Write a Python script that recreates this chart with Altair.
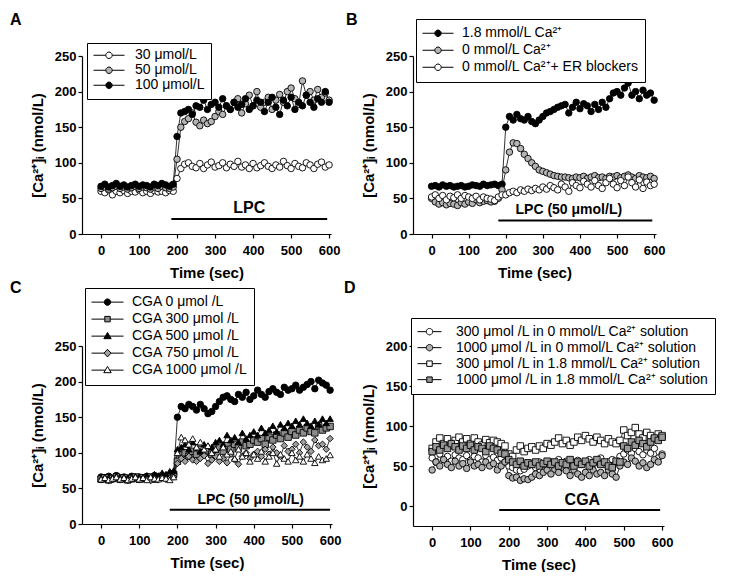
import math
import altair as alt
import pandas as pd

# ---------------- data ----------------
T = list(range(0, 601, 10))  # sample times (sec)
XTICKS = [0, 100, 200, 300, 400, 500, 600]

# Panel A
A_NAMES = ["30 μmol/L", "50 μmol/L", "100 μmol/L"]
A_30 = [60, 58, 62, 55, 60, 58, 61, 57, 60, 59, 62, 58, 60, 57, 61, 59, 60, 58, 61, 60,
        78, 92, 98, 100, 95, 93, 99, 92, 97, 101, 94, 96, 100, 93, 98, 95, 102, 94, 97, 92,
        99, 93, 96, 100, 95, 92, 97, 94, 102, 96, 92, 99, 95, 93, 100, 97, 92, 98, 101, 94, 97]
A_50 = [64, 66, 63, 65, 67, 64, 66, 63, 65, 67, 64, 66, 65, 63, 66, 64, 67, 65, 64, 66,
        105, 150, 158, 162, 170, 157, 152, 160, 155, 158, 165, 172, 168, 180, 175, 185, 190, 170, 183, 195,
        180, 200, 178, 185, 192, 175, 188, 196, 185, 200, 205, 190, 182, 215, 195, 200, 188, 203, 192, 198, 188]
A_100 = [67, 70, 66, 68, 71, 67, 69, 66, 68, 70, 67, 69, 68, 66, 70, 68, 71, 69, 67, 70,
         137, 170, 172, 175, 168, 180, 178, 188, 175, 182, 185, 178, 190, 180, 175, 185, 178, 182, 190, 175,
         180, 188, 185, 172, 185, 192, 178, 168, 188, 180, 192, 175, 185, 180, 195, 185, 178, 190, 185, 200, 185]

# Panel B
B_NAMES = ["1.8 mmol/L Ca²⁺", "0 mmol/L Ca²⁺", "0 mmol/L Ca²⁺+ ER blockers"]
B_18 = [67, 68, 66, 69, 67, 68, 66, 67, 68, 66, 67, 69, 68, 67, 70, 68, 69, 70, 68, 70,
        150, 165, 160, 168, 162, 160, 165, 158, 155, 160, 165, 170, 172, 175, 178, 180, 182, 170, 178, 185,
        176, 183, 180, 172, 182, 175, 185, 178, 190, 198, 200, 195, 205, 212, 195, 200, 190, 202, 195, 198, 188]
B_0 = [50, 45, 42, 44, 41, 43, 42, 40, 44, 42, 45, 43, 48, 44, 46, 47, 45, 46, 50, 62,
       90, 115, 128, 127, 120, 112, 106, 100, 95, 90, 88, 86, 84, 82, 81, 80, 80, 79, 78, 80,
       79, 81, 78, 80, 82, 79, 80, 78, 81, 80, 82, 79, 81, 83, 80, 78, 82, 80, 79, 81, 78]
B_ER = [52, 55, 50, 54, 48, 53, 51, 55, 50, 54, 52, 50, 53, 48, 52, 50, 49, 47, 52, 55,
        55, 58, 60, 58, 62, 60, 63, 61, 64, 62, 66, 63, 68, 65, 62, 70, 66, 60, 72, 68,
        65, 74, 70, 66, 75, 68, 64, 72, 78, 70, 65, 75, 68, 80, 72, 66, 76, 64, 73, 68, 70]

# Panel C
C_NAMES = ["CGA 0 μmol /L", "CGA 300 μmol /L", "CGA 500 μmol /L", "CGA 750 μmol /L", "CGA 1000 μmol /L"]
C_0 = [66, 64, 67, 63, 68, 65, 66, 64, 67, 65, 66, 64, 67, 65, 68, 66, 67, 65, 68, 70,
       150, 165, 162, 168, 165, 160, 168, 162, 155, 158, 165, 172, 178, 180, 175, 172, 182, 178, 185, 175,
       180, 188, 182, 178, 186, 190, 185, 182, 192, 188, 190, 195, 188, 192, 196, 200, 190, 202, 198, 195, 188]
C_300 = [63, 65, 62, 64, 66, 63, 65, 62, 64, 66, 63, 65, 64, 66, 63, 65, 67, 66, 68, 70,
         88, 98, 100, 95, 102, 98, 105, 100, 103, 98, 105, 108, 102, 110, 105, 112, 108, 115, 110, 112,
         118, 115, 120, 112, 122, 118, 125, 120, 128, 122, 130, 125, 132, 128, 135, 130, 128, 138, 132, 135, 137]
C_500 = [64, 66, 63, 65, 67, 64, 66, 65, 63, 67, 65, 66, 68, 66, 70, 68, 72, 70, 74, 75,
         105, 108, 112, 105, 115, 108, 102, 112, 110, 108, 115, 118, 112, 125, 118, 122, 115, 128, 120, 125,
         130, 125, 135, 128, 132, 138, 130, 140, 135, 142, 138, 145, 140, 148, 142, 138, 145, 140, 148, 142, 148]
C_750 = [62, 64, 61, 63, 65, 62, 64, 61, 63, 65, 62, 64, 63, 61, 64, 62, 65, 63, 64, 66,
         85, 92, 88, 95, 90, 88, 92, 96, 85, 90, 95, 88, 92, 86, 98, 90, 84, 95, 100, 92,
         98, 102, 95, 105, 98, 108, 100, 95, 110, 102, 105, 112, 100, 115, 108, 102, 118, 110, 112, 105, 120]
C_1000 = [63, 65, 62, 64, 66, 63, 65, 62, 64, 66, 63, 65, 62, 66, 64, 63, 65, 64, 62, 66,
          100, 122, 118, 112, 120, 108, 115, 105, 110, 100, 105, 95, 108, 98, 102, 92, 105, 95, 100, 88,
          98, 92, 102, 88, 95, 100, 85, 98, 92, 88, 100, 90, 95, 88, 98, 92, 86, 95, 90, 92, 97]

# Panel D
D_NAMES = ["300 μmol /L in 0 mmol/L Ca²⁺ solution", "1000 μmol /L in 0 mmol/L Ca²⁺ solution",
           "300 μmol /L in 1.8 mmol/L Ca²⁺ solution", "1000 μmol /L in 1.8 mmol/L Ca²⁺ solution"]
D_300_0 = [60, 55, 65, 58, 62, 56, 64, 60, 58, 63, 57, 62, 60, 55, 63, 58, 61, 57, 60, 55,
           50, 48, 45, 44, 46, 50, 52, 48, 55, 52, 50, 55, 53, 58, 52, 56, 50, 54, 57, 52,
           55, 58, 53, 56, 60, 52, 55, 58, 54, 62, 65, 70, 66, 72, 68, 64, 70, 66, 72, 60, 65]
D_1000_0 = [45, 55, 50, 58, 52, 48, 56, 50, 53, 47, 55, 50, 52, 48, 55, 50, 53, 45, 50, 55,
            38, 35, 36, 32, 34, 33, 36, 40, 38, 42, 45, 40, 46, 42, 48, 44, 38, 45, 40, 36,
            42, 38, 45, 40, 42, 38, 45, 40, 36, 50, 55, 52, 60, 56, 50, 54, 48, 52, 58, 55, 63]
D_300_18 = [72, 80, 85, 78, 84, 76, 82, 86, 80, 84, 78, 85, 80, 76, 83, 79, 82, 80, 78, 75,
            65, 62, 70, 75, 68, 72, 74, 70, 75, 72, 78, 76, 80, 85, 78, 82, 76, 80, 86, 82,
            88, 84, 80, 86, 82, 78, 84, 80, 78, 82, 95, 88, 92, 98, 90, 85, 92, 88, 84, 90, 88]
D_1000_18 = [68, 74, 70, 76, 72, 78, 74, 70, 75, 72, 76, 70, 74, 72, 68, 75, 72, 70, 66, 65,
             58, 55, 52, 56, 50, 54, 52, 55, 50, 53, 56, 52, 55, 50, 54, 52, 58, 50, 55, 52,
             56, 50, 54, 58, 52, 55, 50, 48, 56, 55, 75, 72, 80, 76, 82, 78, 74, 80, 85, 82, 86]

# annotations: bar start, bar end, bar level, label time, label level, label
ANN_A = [185, 595, 21, 390, 37, "LPC"]
ANN_B = [180, 595, 19, 370, 34, "LPC (50 μmol/L)"]
ANN_C = [180, 600, 20, 392, 34, "LPC (50 μmol/L)"]
ANN_D = [175, 595, -5, 392, 8, "CGA"]

# ---------------- styling ----------------
FONT = "Liberation Sans"
YTITLE = "[Ca²⁺]ᵢ (nmol/L)"
BLACK, WHITE = "#000000", "#ffffff"


def poly(pts):
    return "M" + "L".join(f"{x:.3f},{y:.3f}" for x, y in pts) + "Z"


def legend_path(kind, half_px, r_px):
    r = r_px / half_px
    if kind == "circle":
        shape = poly([(r * math.cos(2 * math.pi * k / 20), r * math.sin(2 * math.pi * k / 20)) for k in range(20)])
        g = r
    elif kind == "square":
        s = r * 0.85
        shape = poly([(-s, -s), (s, -s), (s, s), (-s, s)])
        g = s
    elif kind == "triangle-up":
        shape = poly([(0, -1.15 * r), (1.15 * r, 0.8 * r), (-1.15 * r, 0.8 * r)])
        g = 0.65 * r
    else:  # diamond
        shape = poly([(0, -1.2 * r), (1.1 * r, 0), (0, 1.2 * r), (-1.1 * r, 0)])
        g = 1.1 * r
    return f"M-1,0L{-g:.3f},0M{g:.3f},0L1,0" + shape


def panel(letter, names, series, fills, shapes, ydom, yticks, ann, width, height,
          leg_x, leg_y, row_h, half_px, label_off, title_dx, title_dy):
    rows = []
    for n, vals in zip(names, series):
        for t, v in zip(T, vals):
            rows.append({"t": t, "v": v, "s": n})
    df = pd.DataFrame(rows)

    x = alt.X("t:Q", scale=alt.Scale(domain=[-50, 605], nice=False, zero=False),
              axis=alt.Axis(values=XTICKS, title="Time (sec)"))
    y = alt.Y("v:Q", scale=alt.Scale(domain=ydom, nice=False, zero=False),
              axis=alt.Axis(values=yticks, title=YTITLE))

    lines = alt.Chart(df).mark_line(color=BLACK, strokeWidth=0.8).encode(x=x, y=y, detail="s:N")
    pts = alt.Chart(df).mark_point(filled=True, stroke=BLACK, strokeWidth=0.9, opacity=1, size=42).encode(
        x=x, y=y,
        fill=alt.Fill("s:N", scale=alt.Scale(domain=names, range=fills), legend=None),
        shape=alt.Shape("s:N", scale=alt.Scale(domain=names, range=shapes), legend=None),
    )

    leg = alt.Legend(title=None, orient="none", legendX=leg_x, legendY=leg_y,
                     symbolSize=(2 * half_px) ** 2, clipHeight=row_h, rowPadding=0,
                     labelOffset=label_off, padding=6, strokeColor=BLACK, fillColor=WHITE,
                     symbolStrokeWidth=1,
                     labelFont=FONT, labelFontSize=14, labelColor=BLACK, labelLimit=400)
    leg_df = pd.DataFrame({"s": names})
    legend_layer = alt.Chart(leg_df).transform_filter("false").mark_point(
        filled=True, strokeWidth=1, opacity=1).encode(
        fill=alt.Fill("s:N", scale=alt.Scale(domain=names, range=fills), legend=leg),
        stroke=alt.Stroke("s:N", scale=alt.Scale(domain=names, range=[BLACK] * len(names)), legend=leg),
        shape=alt.Shape("s:N", scale=alt.Scale(domain=names,
                        range=[legend_path(k, half_px, 3.2) for k in shapes]), legend=leg),
    )

    bar_df = pd.DataFrame([{"t": ann[0], "t2": ann[1], "v": ann[2]}])
    txt_df = pd.DataFrame([{"t": ann[3], "v": ann[4], "label": ann[5]}])
    bar = alt.Chart(bar_df).mark_rule(color=BLACK, strokeWidth=2).encode(x=x, x2="t2:Q", y=y)
    txt = alt.Chart(txt_df).mark_text(font=FONT, fontWeight="bold", fontSize=16 if len(ann[5]) <= 3 else 14,
                                      color=BLACK).encode(x=x, y=y, text="label:N")

    return alt.layer(lines, pts, bar, txt, legend_layer).resolve_scale(
        fill="independent", shape="independent", stroke="independent"
    ).properties(
        width=width, height=height,
        title=alt.TitleParams(letter, anchor="start", frame="group", dx=title_dx, dy=title_dy,
                              fontSize=16, fontWeight="bold", font=FONT, color=BLACK, offset=0),
    )


GRAY = "#b5b5b5"
pA = panel("A", A_NAMES, [A_30, A_50, A_100], [WHITE, GRAY, BLACK], ["circle"] * 3,
           [0, 250], [0, 50, 100, 150, 200, 250], ANN_A, 249, 178,
           5, -13, 12.5, 15.5, 10, -72, -15)
pB = panel("B", B_NAMES, [B_18, B_0, B_ER], [BLACK, GRAY, WHITE], ["circle"] * 3,
           [0, 250], [0, 50, 100, 150, 200, 250], ANN_B, 243, 178,
           3, -37, 16.5, 15.5, 8, -67, 9)
pC = panel("C", C_NAMES, [C_0, C_300, C_500, C_750, C_1000],
           [BLACK, "#8c8c8c", BLACK, "#a0a0a0", WHITE],
           ["circle", "square", "triangle-up", "diamond", "triangle-up"],
           [0, 250], [0, 50, 100, 150, 200, 250], ANN_C, 250, 178,
           3, -58, 16.25, 16, 8, -72, 8)
pD = panel("D", D_NAMES, [D_300_0, D_1000_0, D_300_18, D_1000_18],
           [WHITE, "#b0b0b0", WHITE, "#999999"],
           ["circle", "circle", "square", "square"],
           [-25, 200], [0, 50, 100, 150, 200], ANN_D, 251, 180,
           -2, -28, 15.3, 12, 14, -69, -22)

chart = alt.concat(pA, pB, pC, pD, columns=2, spacing={"row": 112, "column": 81}, bounds="flush").properties(
    padding={"left": 2, "top": 3, "right": 0, "bottom": 0}, background=WHITE
).configure_view(stroke=None).configure_axis(
    grid=False, domainColor=BLACK, domainWidth=1.2, tickColor=BLACK, tickWidth=1.2,
    labelFont=FONT, labelFontWeight="bold", labelFontSize=13, labelColor=BLACK,
    titleFont=FONT, titleFontWeight="bold", titleFontSize=15, titleColor=BLACK,
).configure_axisX(tickSize=4, labelPadding=6, titlePadding=8).configure_axisY(
    tickSize=4, labelPadding=2, titlePadding=9
)

chart.save("out.html", embed_options={"renderer": "svg", "actions": False})
